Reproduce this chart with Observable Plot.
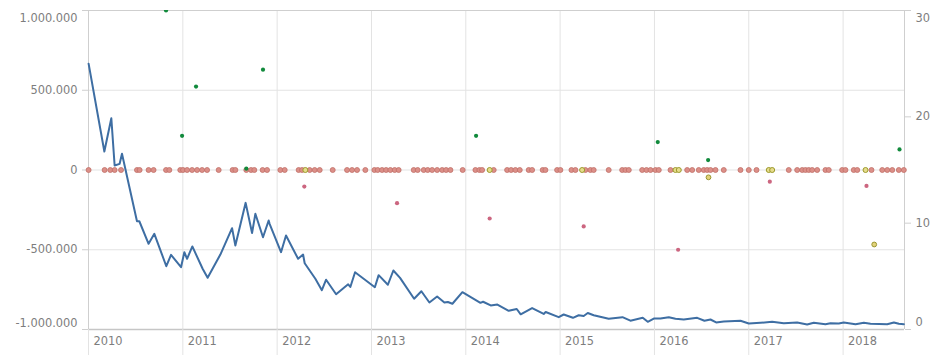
<!DOCTYPE html>
<html>
<head>
<meta charset="utf-8">
<script src="https://cdn.jsdelivr.net/npm/d3@7"></script>
<script src="https://cdn.jsdelivr.net/npm/@observablehq/plot@0.6"></script>
<style>
  html, body { margin: 0; padding: 0; background: #fff; }
  #chart { width: 946px; height: 355px; }
</style>
</head>
<body>
<div id="chart"></div>
<script>
// ---- Data (x positions as fractional years) ----
const yearTicks = [2010, 2011, 2012, 2013, 2014, 2015, 2016, 2017, 2018];
const xEnd = 2018.651;

const leftTicks = [-1000000, -500000, 0, 500000, 1000000];
const rightTicks = [0, 10, 20, 30];

// Line series (right axis, 0..30)
const lineYear = [2010.001, 2010.168, 2010.242, 2010.277, 2010.330, 2010.355, 2010.514, 2010.539, 2010.637, 2010.698,
  2010.825, 2010.875, 2010.981, 2011.016, 2011.045, 2011.101, 2011.210, 2011.263, 2011.398, 2011.522,
  2011.557, 2011.666, 2011.734, 2011.769, 2011.850, 2011.910, 2011.920, 2012.041, 2012.094, 2012.222,
  2012.275, 2012.292, 2012.405, 2012.474, 2012.519, 2012.625, 2012.753, 2012.776, 2012.826, 2013.036,
  2013.076, 2013.174, 2013.232, 2013.303, 2013.452, 2013.529, 2013.614, 2013.696, 2013.773, 2013.810,
  2013.858, 2013.964, 2014.155, 2014.183, 2014.264, 2014.335, 2014.455, 2014.540, 2014.582, 2014.703,
  2014.826, 2014.847, 2014.985, 2015.038, 2015.136, 2015.197, 2015.250, 2015.293, 2015.356, 2015.515,
  2015.661, 2015.745, 2015.876, 2015.929, 2015.993, 2016.064, 2016.152, 2016.223, 2016.311, 2016.453,
  2016.530, 2016.594, 2016.654, 2016.735, 2016.912, 2017.000, 2017.124, 2017.248, 2017.371, 2017.513,
  2017.619, 2017.689, 2017.813, 2017.866, 2017.954, 2018.007, 2018.132, 2018.220, 2018.291, 2018.468,
  2018.538, 2018.591, 2018.644];
const lineValue = [25.0, 16.74, 19.87, 15.42, 15.58, 16.52, 10.18, 10.18, 8.06, 9.0,
  5.95, 7.02, 5.86, 7.27, 6.65, 7.81, 5.71, 4.86, 7.05, 9.53,
  7.9, 11.91, 9.07, 10.88, 8.68, 10.25, 9.94, 7.27, 8.84, 6.65,
  7.05, 6.23, 4.77, 3.7, 4.68, 3.32, 4.25, 4.0, 5.39, 3.98,
  5.11, 4.21, 5.55, 4.86, 2.89, 3.6, 2.54, 3.1, 2.54, 2.59,
  2.42, 3.51, 2.51, 2.61, 2.26, 2.35, 1.76, 1.93, 1.43, 2.02,
  1.46, 1.65, 1.16, 1.41, 1.1, 1.34, 1.27, 1.55, 1.34, 1.01,
  1.16, 0.83, 1.1, 0.72, 1.03, 1.03, 1.16, 1.01, 0.94, 1.1,
  0.82, 0.94, 0.66, 0.75, 0.82, 0.56, 0.63, 0.72, 0.59, 0.66,
  0.47, 0.63, 0.5, 0.59, 0.56, 0.66, 0.5, 0.63, 0.54, 0.5,
  0.66, 0.54, 0.5];

// Dots at value 0 (left axis)
const rowPinkYear = [2010.001, 2010.171, 2010.231, 2010.277, 2010.345, 2010.514, 2010.542, 2010.637, 2010.690, 2010.822,
  2010.857, 2010.973, 2011.002, 2011.045, 2011.098, 2011.151, 2011.204, 2011.257, 2011.380, 2011.528,
  2011.557, 2011.673, 2011.723, 2011.758, 2011.846, 2011.893, 2012.034, 2012.080, 2012.228, 2012.264,
  2012.345, 2012.398, 2012.451, 2012.589, 2012.741, 2012.794, 2012.847, 2012.935, 2013.031, 2013.066,
  2013.112, 2013.155, 2013.200, 2013.246, 2013.288, 2013.448, 2013.490, 2013.554, 2013.596, 2013.643,
  2013.696, 2013.749, 2013.791, 2013.837, 2013.967, 2014.102, 2014.144, 2014.173, 2014.296, 2014.438,
  2014.480, 2014.526, 2014.572, 2014.667, 2014.703, 2014.815, 2014.844, 2014.968, 2015.003, 2015.120,
  2015.162, 2015.268, 2015.321, 2015.356, 2015.515, 2015.658, 2015.693, 2015.728, 2015.870, 2015.915,
  2015.958, 2016.011, 2016.046, 2016.170, 2016.347, 2016.400, 2016.470, 2016.523, 2016.559, 2016.594,
  2016.647, 2016.735, 2016.912, 2017.000, 2017.082, 2017.424, 2017.513, 2017.566, 2017.601, 2017.636,
  2017.672, 2017.725, 2017.813, 2017.848, 2017.990, 2018.025, 2018.113, 2018.150, 2018.301, 2018.415,
  2018.468, 2018.521, 2018.591, 2018.644];
const rowYellowYear = [2012.299, 2014.253, 2015.233, 2016.223, 2016.258, 2017.212, 2017.248, 2018.238];
const rowValue = 0;

// Off-row dots (left axis)
const greenYear = [2010.822, 2010.992, 2011.140, 2011.673, 2011.850, 2014.109, 2016.035, 2016.569, 2018.598];
const greenValue = [1000000, 214000, 523000, 8000, 629000, 214000, 175000, 62000, 129000];
const pinkYear = [2012.288, 2013.271, 2014.253, 2015.250, 2016.251, 2017.223, 2018.248];
const pinkValue = [-104000, -208000, -304000, -354000, -500000, -73000, -100000];
const yellowYear = [2016.573, 2018.330];
const yellowValue = [-46000, -467000];

// ---- Build tables ----
const toLeft = r => -1000000 + r * (2000000 / 30);
const lineData = lineYear.map((x, i) => ({x, y: toLeft(lineValue[i])})).filter(d => !isNaN(d.y));
const rowPink = rowPinkYear.map(x => ({x, y: rowValue}));
const rowYellow = rowYellowYear.map(x => ({x, y: rowValue}));
const green = greenYear.map((x, i) => ({x, y: greenValue[i]}));
const pink = pinkYear.map((x, i) => ({x, y: pinkValue[i]}));
const yellow = yellowYear.map((x, i) => ({x, y: yellowValue[i]}));

const loc = d3.formatLocale({decimal: ",", thousands: ".", grouping: [3], currency: ["", ""], minus: "-"});
const fmtLeft = loc.format(",");
const rightTickVals = rightTicks.map(toLeft);
const fmtRight = v => String(Math.round((v + 1000000) * 30 / 2000000));

const GRID = "#e3e3e3";
const AXIS = "#cfcfcf";
const TXT = "#7d7d7d";
const FS = 11.4;

const chart = Plot.plot({
  width: 946,
  height: 355,
  marginLeft: 88,
  marginRight: 42,
  marginTop: 10,
  marginBottom: 26,
  style: {fontFamily: "DejaVu Sans", fontSize: FS + "px", background: "white", color: TXT},
  x: {type: "linear", domain: [2010, xEnd]},
  y: {domain: [-1000000, 1000000]},
  marks: [
    // grid
    Plot.gridX(yearTicks.slice(1), {stroke: GRID, strokeOpacity: 1}),
    Plot.gridY([-500000, 0, 500000], {stroke: GRID, strokeOpacity: 1}),
    // frame lines
    Plot.ruleY([1000000], {stroke: AXIS}),
    Plot.ruleX([xEnd], {stroke: AXIS}),
    Plot.ruleX([2010], {stroke: AXIS}),
    Plot.ruleY([-1000000], {stroke: "#c6c6c6", strokeWidth: 1.3}),
    // x axis ticks (long, below axis) and labels
    Plot.axisX(yearTicks, {tickSize: 26, tickFormat: () => "", stroke: GRID, label: null}),
    Plot.axisX(yearTicks, {tickSize: 0, tickPadding: 7, textAnchor: "start", dx: 5, tickFormat: d => String(d), fill: TXT, fontSize: FS, label: null}),
    // left axis
    Plot.axisY(leftTicks, {anchor: "left", tickSize: 6, tickFormat: () => "", stroke: AXIS, label: null}),
    Plot.axisY([-500000, 0, 500000], {anchor: "left", tickSize: 0, tickPadding: 11, tickFormat: fmtLeft, fill: TXT, fontSize: FS, label: null}),
    Plot.axisY([1000000], {anchor: "left", tickSize: 0, tickPadding: 11, dy: 8, tickFormat: fmtLeft, fill: TXT, fontSize: FS, label: null}),
    Plot.axisY([-1000000], {anchor: "left", tickSize: 0, tickPadding: 11, dy: -6, tickFormat: fmtLeft, fill: TXT, fontSize: FS, label: null}),
    // right axis
    Plot.axisY(rightTickVals, {anchor: "right", tickSize: 6, tickFormat: () => "", stroke: AXIS, label: null}),
    Plot.axisY(rightTickVals.slice(1, 3), {anchor: "right", tickSize: 0, tickPadding: 11, tickFormat: fmtRight, fill: TXT, fontSize: FS, label: null}),
    Plot.axisY([rightTickVals[3]], {anchor: "right", tickSize: 0, tickPadding: 11, dy: 8, tickFormat: fmtRight, fill: TXT, fontSize: FS, label: null}),
    Plot.axisY([rightTickVals[0]], {anchor: "right", tickSize: 0, tickPadding: 11, dy: -7, tickFormat: fmtRight, fill: TXT, fontSize: FS, label: null}),
    // dots
    Plot.dot(rowPink, {x: "x", y: "y", r: 2.5, fill: "#dc8f88", stroke: "#c07068", strokeWidth: 0.8}),
    Plot.dot(rowYellow, {x: "x", y: "y", r: 2.5, fill: "#e6dc8c", stroke: "#9c9a2c", strokeWidth: 1}),
    Plot.dot(green, {x: "x", y: "y", r: 2.1, fill: "#118a3c", clip: true}),
    Plot.dot(pink, {x: "x", y: "y", r: 2.1, fill: "#cc6680"}),
    Plot.dot(yellow, {x: "x", y: "y", r: 2.4, fill: "#e2d27a", stroke: "#9a9630", strokeWidth: 1}),
    // line
    Plot.line(lineData, {x: "x", y: "y", stroke: "#3e6ea3", strokeWidth: 2, strokeLinejoin: "round"})
  ]
});
document.getElementById("chart").appendChild(chart);
</script>
</body>
</html>
